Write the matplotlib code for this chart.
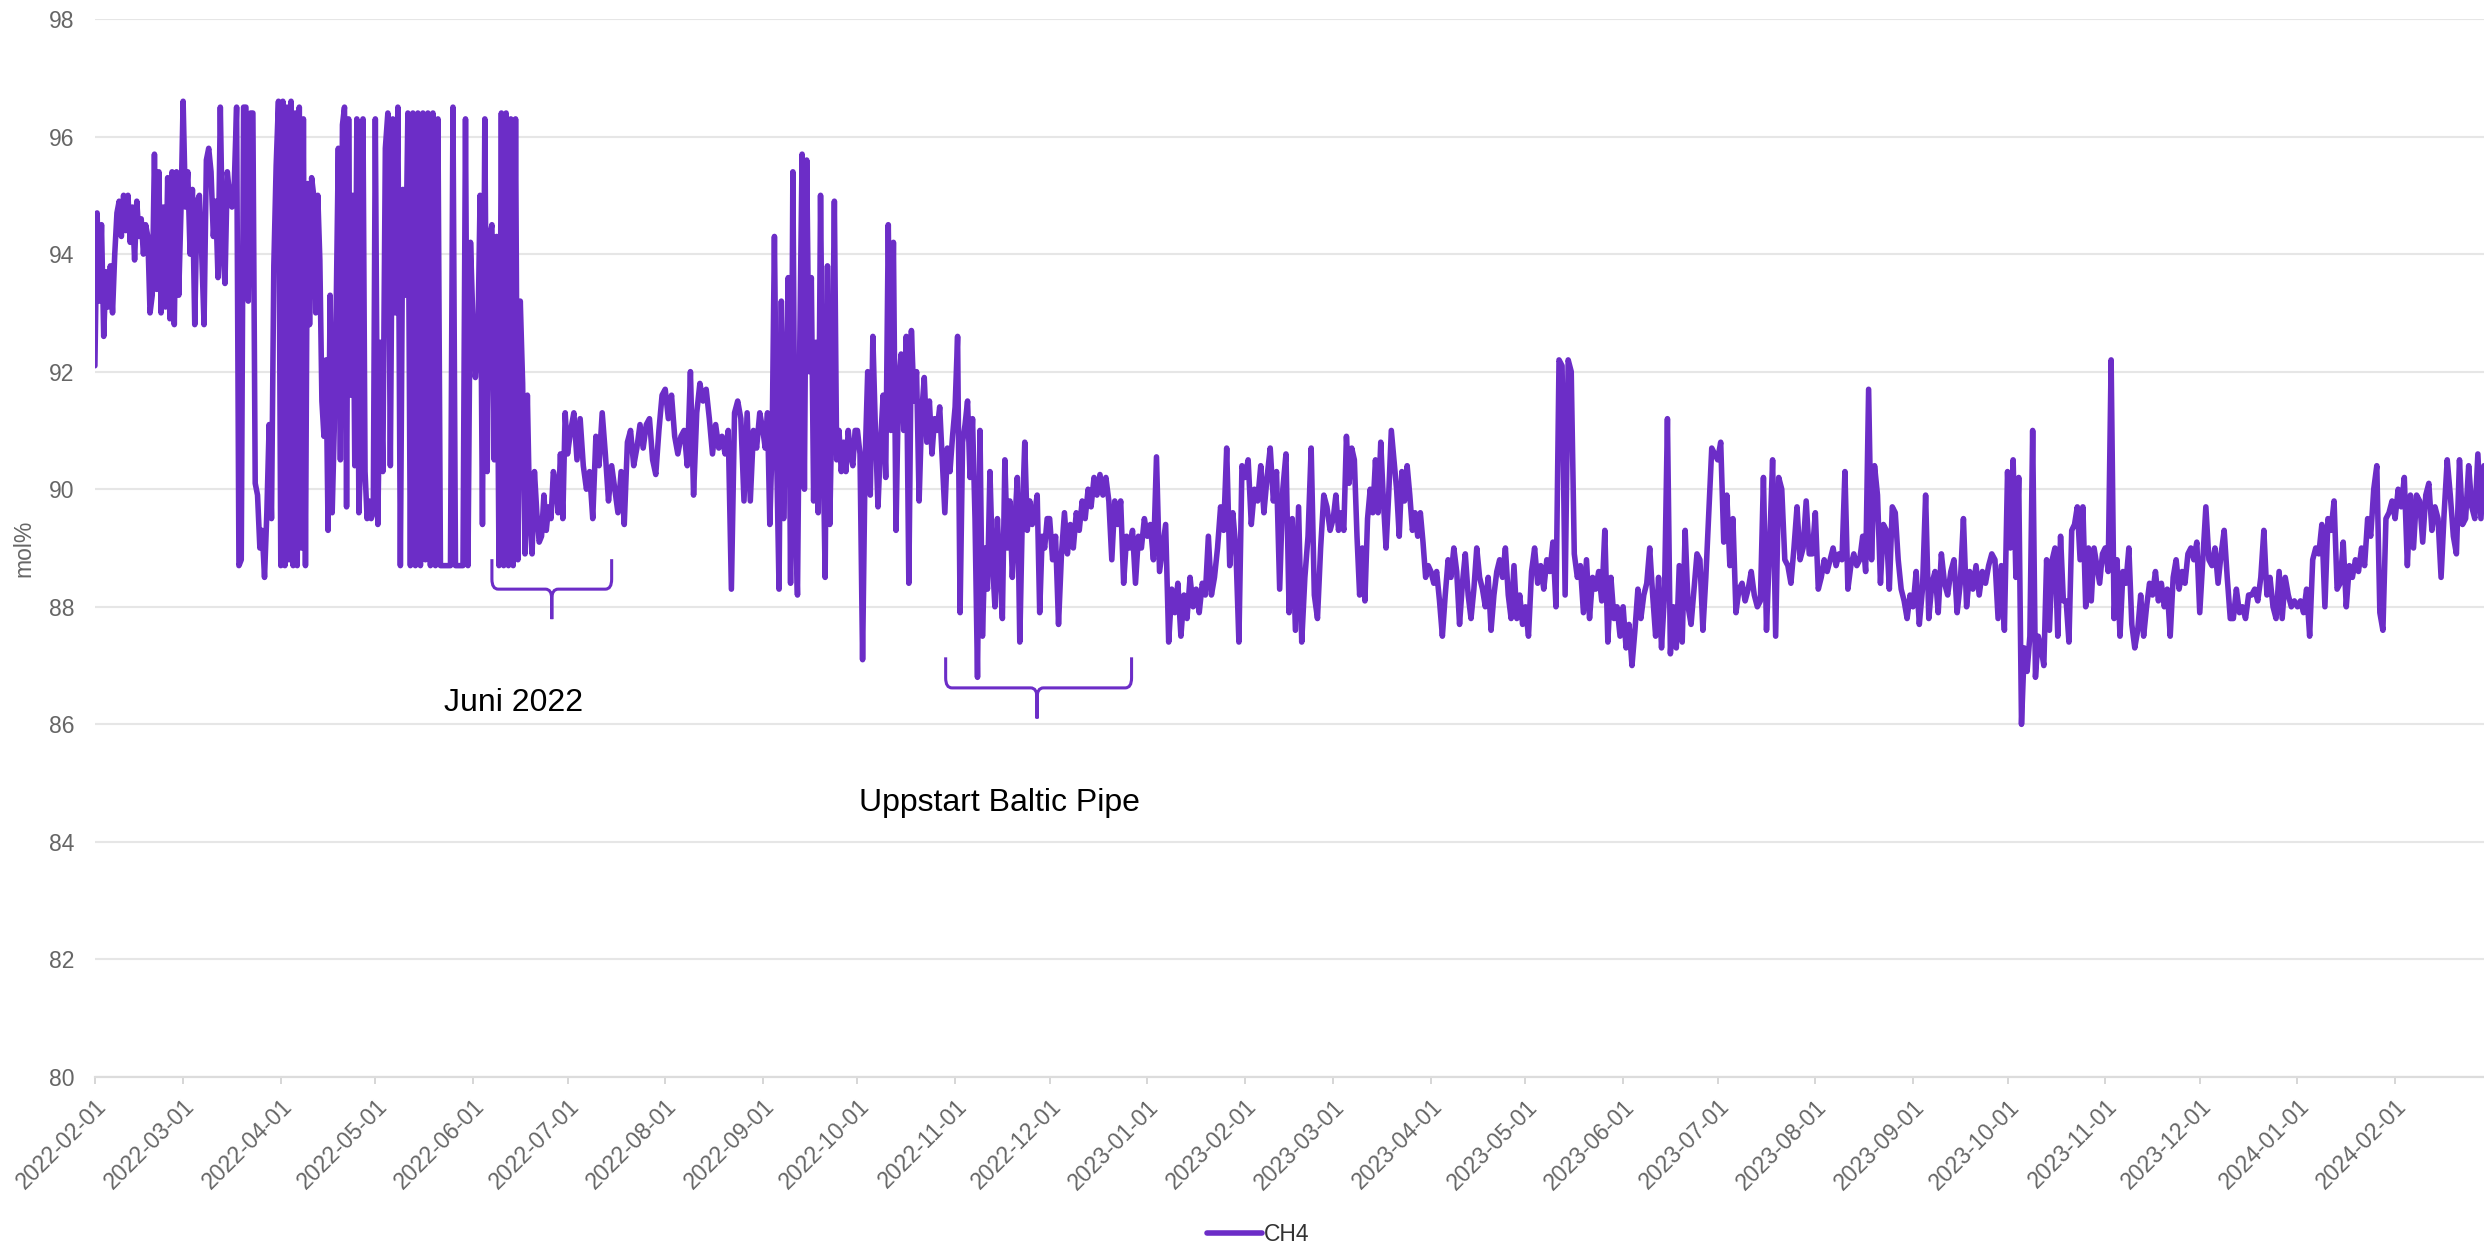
import numpy as np
import pandas as pd
import matplotlib
matplotlib.use("Agg")
import matplotlib.pyplot as plt
import matplotlib.dates as mdates
from matplotlib.path import Path
from matplotlib.patches import PathPatch

plt.rcParams['font.family'] = ['Liberation Sans', 'DejaVu Sans']

# CH4 readings (mol%), one list per month
ch4_2022_02 = [92.1, 94.7, 93.2, 94.5, 92.6, 93.7, 93.1, 93.8, 93.0, 94.0, 94.7, 94.9, 94.3, 95.0,
               94.4, 95.0, 94.2, 94.8, 93.9, 94.9, 94.3, 94.6, 94.0, 94.5, 94.3, 93.0, 93.3, 95.7,
               93.4, 95.4, 93.0, 94.8, 93.1, 95.3, 92.9, 95.4, 92.8, 95.4, 93.3, 94.7]
ch4_2022_03 = [96.6, 94.8, 95.4, 94.0, 95.1, 92.8, 94.9, 95.0, 94.0, 92.8, 95.6, 95.8, 95.4, 94.3,
               94.9, 93.6, 96.5, 94.1, 93.5, 95.4, 95.0, 94.8, 95.2, 96.5, 88.7, 88.8, 96.5, 96.5,
               93.2, 96.4, 96.4, 90.1, 89.9, 89.0, 89.3, 88.5, 89.6, 91.1, 89.5, 93.8, 95.5, 96.6]
ch4_2022_04 = [88.7, 96.6, 88.7, 96.5, 88.8, 96.6, 88.7, 96.4, 88.7, 96.5, 89.0, 96.3, 88.7, 95.2,
               92.8, 95.3, 95.0, 93.0, 95.0, 93.9, 91.5, 90.9, 92.2, 89.3, 93.3, 89.6, 91.0, 93.2,
               95.8, 90.5, 96.2, 96.5, 89.7, 96.3, 91.6, 95.0, 90.4, 96.3, 89.6, 90.7, 96.3, 90.3,
               89.5, 89.8, 89.5, 89.6]
ch4_2022_05 = [96.3, 89.4, 92.5, 90.3, 95.8, 96.4, 90.4, 96.3, 93.0, 96.5, 88.7, 95.1, 93.3, 96.4,
               88.7, 96.4, 88.7, 96.4, 88.7, 96.4, 88.8, 96.4, 88.7, 96.4, 88.7, 96.3, 88.7, 88.7,
               88.7, 88.7, 88.7, 96.5, 88.7, 88.7, 88.7, 88.7, 96.3, 88.7, 94.2]
ch4_2022_06 = [92.8, 91.9, 92.4, 95.0, 89.4, 96.3, 90.3, 94.3, 94.5, 90.5, 94.3, 88.7, 96.4, 88.7,
               96.4, 88.7, 96.3, 88.7, 96.3, 88.8, 93.2, 91.8, 88.9, 91.6, 89.5, 88.9, 90.3, 89.6,
               89.1, 89.2, 89.9, 89.3, 89.7, 89.5, 90.3, 90.1, 89.6, 90.6, 89.5, 91.3]
ch4_2022_07 = [90.6, 91.0, 91.3, 90.5, 91.2, 90.4, 90.0, 90.3, 89.5, 90.9, 90.4, 91.3, 90.6, 89.8,
               90.4, 90.0, 89.6, 90.3, 89.4, 90.8, 91.0, 90.4, 90.7, 91.1, 90.7, 91.1, 91.2, 90.5,
               90.25, 91.0, 91.6]
ch4_2022_08 = [91.7, 91.2, 91.6, 90.9, 90.6, 90.9, 91.0, 90.4, 92.0, 89.9, 91.3, 91.8, 91.5, 91.7,
               91.2, 90.6, 91.1, 90.7, 90.9, 90.6, 91.0, 88.3, 91.3, 91.5, 91.2, 89.8, 91.3, 89.8,
               91.0, 90.7, 91.3]
ch4_2022_09 = [91.0, 90.7, 91.3, 89.4, 90.8, 94.3, 90.5, 88.3, 93.2, 89.5, 91.5, 93.6, 88.4, 95.4,
               89.6, 88.2, 92.5, 95.7, 90.0, 95.6, 92.0, 93.6, 89.8, 92.5, 89.6, 95.0, 91.0, 88.5,
               93.8, 89.4, 91.5, 94.9, 90.5, 91.0, 90.3, 90.8, 90.3, 91.0, 90.6, 90.4, 91.0]
ch4_2022_10 = [91.0, 90.6, 87.1, 90.5, 92.0, 89.9, 92.6, 91.0, 89.7, 90.8, 91.6, 90.2, 94.5, 91.0,
               94.2, 89.3, 91.8, 92.3, 91.0, 92.6, 88.4, 92.7, 91.5, 92.0, 89.8, 91.3, 91.9, 90.8,
               91.5, 90.6, 91.2, 91.0, 91.4, 90.5, 89.6, 90.7, 90.3, 90.9]
ch4_2022_11 = [91.4, 92.6, 87.9, 90.8, 91.1, 91.5, 90.2, 91.2, 89.5, 86.8, 91.0, 87.5, 89.0, 88.3,
               90.3, 88.8, 88.0, 89.5, 88.6, 87.8, 90.5, 89.0, 89.8, 88.5, 89.4, 90.2, 87.4, 89.5,
               90.8, 89.3, 89.8, 89.4, 89.6, 89.9, 87.9, 89.2, 89.0, 89.5]
ch4_2022_12 = [89.5, 88.8, 89.2, 87.7, 88.9, 89.6, 88.9, 89.4, 89.0, 89.6, 89.3, 89.8, 89.5, 90.0,
               89.7, 90.2, 89.9, 90.25, 89.9, 90.2, 89.8, 88.8, 89.8, 89.4, 89.8, 88.4, 89.2, 89.0,
               89.3, 88.4, 89.2, 89.0, 89.5]
ch4_2023_01 = [89.2, 89.4, 88.8, 90.55, 88.6, 89.0, 89.4, 87.4, 88.3, 87.9, 88.4, 87.5, 88.2, 87.8,
               88.5, 88.0, 88.3, 87.9, 88.4, 88.2, 89.2, 88.2, 88.5, 89.0, 89.7, 89.3, 90.7, 88.7,
               89.6, 89.0, 87.4, 90.4]
ch4_2023_02 = [90.2, 90.5, 89.4, 90.0, 89.8, 90.4, 89.6, 90.2, 90.7, 89.8, 90.3, 88.3, 90.0, 90.6,
               87.9, 89.5, 87.6, 89.7, 87.4, 88.5, 89.2, 90.7, 88.2, 87.8, 89.0, 89.9, 89.7, 89.3]
ch4_2023_03 = [89.5, 89.9, 89.3, 89.6, 89.3, 90.9, 90.1, 90.7, 90.5, 89.2, 88.2, 89.0, 88.1, 89.5,
               90.0, 89.6, 90.5, 89.6, 90.8, 89.8, 89.0, 89.9, 91.0, 90.5, 90.0, 89.2, 90.3, 89.8,
               90.4, 89.9, 89.3, 89.6, 89.2, 89.6, 89.1, 88.5, 88.7]
ch4_2023_04 = [88.6, 88.4, 88.6, 88.1, 87.5, 88.2, 88.8, 88.5, 89.0, 88.6, 87.7, 88.4, 88.9, 88.2,
               87.8, 88.3, 89.0, 88.5, 88.3, 88.0, 88.5, 87.6, 88.2, 88.6, 88.8, 88.5, 89.0, 88.2,
               87.8, 88.7, 87.8, 88.2, 87.7]
ch4_2023_05 = [88.0, 87.5, 88.6, 89.0, 88.4, 88.7, 88.3, 88.8, 88.6, 89.1, 88.0, 92.2, 92.1, 88.2,
               92.2, 92.0, 88.9, 88.5, 88.7, 87.9, 88.8, 87.8, 88.5, 88.3, 88.6, 88.1, 89.3, 87.4,
               88.5, 87.8, 88.0, 87.5]
ch4_2023_06 = [88.0, 87.3, 87.7, 87.0, 87.6, 88.3, 87.8, 88.2, 88.4, 89.0, 88.2, 87.5, 88.5, 87.3,
               88.2, 91.2, 87.2, 88.0, 87.3, 88.7, 87.4, 89.3, 88.0, 87.7, 88.3, 88.9, 88.8, 87.6,
               88.5, 89.6, 90.7, 90.6]
ch4_2023_07 = [90.5, 90.8, 89.1, 89.9, 88.7, 89.5, 87.9, 88.3, 88.4, 88.1, 88.3, 88.6, 88.2, 88.0,
               88.1, 90.2, 87.6, 89.0, 90.5, 87.5, 90.2, 90.0, 88.8, 88.7, 88.4, 89.0, 89.7, 88.8,
               89.0, 89.8, 88.9, 88.9]
ch4_2023_08 = [89.6, 88.3, 88.5, 88.8, 88.6, 88.8, 89.0, 88.7, 88.9, 88.8, 90.3, 88.3, 88.7, 88.9,
               88.7, 88.8, 89.2, 88.6, 91.7, 88.8, 90.4, 89.9, 88.4, 89.4, 89.3, 88.3, 89.7, 89.6,
               88.8, 88.3, 88.1, 87.8, 88.2]
ch4_2023_09 = [88.0, 88.6, 87.7, 88.3, 89.9, 87.8, 88.4, 88.6, 87.9, 88.9, 88.4, 88.2, 88.6, 88.8,
               87.9, 88.4, 89.5, 88.0, 88.6, 88.3, 88.7, 88.2, 88.6, 88.4, 88.7, 88.9, 88.8, 87.8,
               88.7, 87.6]
ch4_2023_10 = [90.3, 89.0, 90.5, 88.5, 90.2, 86.0, 87.3, 86.9, 87.5, 91.0, 86.8, 87.5, 87.3, 87.0,
               88.8, 87.6, 88.8, 89.0, 87.5, 89.2, 88.1, 88.1, 87.4, 89.3, 89.4, 89.7, 88.8, 89.7,
               88.0, 89.0, 88.1, 89.0, 88.7, 88.4, 88.9]
ch4_2023_11 = [89.0, 88.6, 92.2, 87.8, 88.8, 87.5, 88.6, 88.4, 89.0, 87.7, 87.3, 87.6, 88.2, 87.5,
               88.0, 88.4, 88.2, 88.6, 88.1, 88.4, 88.0, 88.3, 87.5, 88.5, 88.8, 88.3, 88.6, 88.4,
               88.9, 89.0, 88.8, 89.1]
ch4_2023_12 = [87.9, 88.8, 89.7, 88.8, 88.7, 89.0, 88.4, 88.9, 89.3, 88.5, 87.8, 87.8, 88.3, 87.9,
               88.0, 87.8, 88.2, 88.2, 88.3, 88.1, 88.5, 89.3, 88.2, 88.5, 88.0, 87.8, 88.6, 87.8,
               88.5, 88.2, 88.0, 88.1]
ch4_2024_01 = [88.0, 88.1, 87.9, 88.3, 87.5, 88.8, 89.0, 88.9, 89.4, 88.0, 89.5, 89.3, 89.8, 88.3,
               88.4, 89.1, 88.0, 88.7, 88.5, 88.8, 88.6, 89.0, 88.7, 89.5, 89.2, 90.0, 90.4, 87.9,
               87.6, 89.5, 89.6, 89.8]
ch4_2024_02 = [89.5, 90.0, 89.7, 90.2, 88.7, 89.9, 89.0, 89.9, 89.8, 89.1, 89.9, 90.1, 89.3, 89.7,
               89.5, 88.5, 89.6, 90.5, 89.9, 89.2, 88.9, 90.5, 89.4, 89.5, 90.4, 89.7, 89.5, 90.6,
               89.5, 90.4]

ch4_months = [ch4_2022_02, ch4_2022_03, ch4_2022_04, ch4_2022_05, ch4_2022_06, ch4_2022_07,
              ch4_2022_08, ch4_2022_09, ch4_2022_10, ch4_2022_11, ch4_2022_12, ch4_2023_01,
              ch4_2023_02, ch4_2023_03, ch4_2023_04, ch4_2023_05, ch4_2023_06, ch4_2023_07,
              ch4_2023_08, ch4_2023_09, ch4_2023_10, ch4_2023_11, ch4_2023_12, ch4_2024_01,
              ch4_2024_02]

month_starts = pd.date_range("2022-02-01", periods=len(ch4_months), freq="MS")
x_end = pd.Timestamp("2024-02-29 05:00")

# spread each month's readings evenly over that month
times, values = [], []
for i, (start, vals) in enumerate(zip(month_starts, ch4_months)):
    if i + 1 < len(month_starts):
        step = (month_starts[i + 1] - start) / len(vals)
    else:
        step = (x_end - start) / (len(vals) - 1)
    for k, v in enumerate(vals):
        times.append(start + k * step)
        values.append(v)

purple = "#6c2dc7"
grey_text = "#666666"

fig = plt.figure(figsize=(24.84, 12.48), dpi=100)
ax = fig.add_axes([0.0382, 0.137, 0.9618, 0.8478])

ax.plot(times, values, color=purple, lw=4.0, solid_joinstyle="round",
        solid_capstyle="round", label="CH4")

ax.set_xlim(month_starts[0], x_end)
ax.set_ylim(80, 98)
ax.set_yticks(np.arange(80, 99, 2))
ax.grid(axis="y", color="#e6e6e6", lw=1.5)
ax.set_axisbelow(True)
for side in ["top", "right", "left"]:
    ax.spines[side].set_visible(False)
ax.spines["bottom"].set_color("#dcdcdc")
ax.spines["bottom"].set_linewidth(1.6)

ax.set_xticks(month_starts)
ax.xaxis.set_major_formatter(mdates.DateFormatter("%Y-%m-%d"))
ax.tick_params(axis="x", length=5, width=1.2, color="#d0d0d0", labelsize=16.5,
               labelcolor=grey_text, pad=8)
plt.setp(ax.get_xticklabels(), rotation=45, ha="right", rotation_mode="anchor")
ax.tick_params(axis="y", length=0, labelsize=16.5, labelcolor=grey_text, pad=15)

ax.set_ylabel("mol%", fontsize=16.5, color=grey_text)
ax.yaxis.set_label_coords(-0.025, 0.5)


def draw_brace(ax, x0, x1, xm, y_end, y_bar, y_tip, rx=2.0, ry=0.17):
    x0, x1, xm = (mdates.date2num(pd.Timestamp(v)) for v in (x0, x1, xm))
    verts = [(x0, y_end), (x0, y_bar + ry), (x0, y_bar), (x0 + rx, y_bar),
             (xm - rx, y_bar), (xm, y_bar), (xm, y_bar - ry), (xm, y_tip),
             (xm, y_bar - ry), (xm, y_bar), (xm + rx, y_bar),
             (x1 - rx, y_bar), (x1, y_bar), (x1, y_bar + ry), (x1, y_end)]
    codes = [Path.MOVETO, Path.LINETO, Path.CURVE3, Path.CURVE3,
             Path.LINETO, Path.CURVE3, Path.CURVE3, Path.LINETO,
             Path.LINETO, Path.CURVE3, Path.CURVE3,
             Path.LINETO, Path.CURVE3, Path.CURVE3, Path.LINETO]
    ax.add_patch(PathPatch(Path(verts, codes), fill=False, edgecolor=purple, lw=2.2))


draw_brace(ax, "2022-06-07", "2022-07-15", "2022-06-26", 88.81, 88.30, 87.79)
draw_brace(ax, "2022-10-29", "2022-12-27", "2022-11-27", 87.14, 86.62, 86.10)

ax.text(pd.Timestamp("2022-06-14"), 86.36, "Juni 2022", fontsize=23, color="black",
        ha="center", va="center")
ax.text(pd.Timestamp("2022-11-15"), 84.66, "Uppstart Baltic Pipe", fontsize=23,
        color="black", ha="center", va="center")

fig.legend(loc="center", bbox_to_anchor=(0.5064, 0.0112), frameon=False, fontsize=16.5,
           handlelength=2.4, handletextpad=0.1, labelcolor="#333333")

fig.savefig("out.png", dpi=100)
